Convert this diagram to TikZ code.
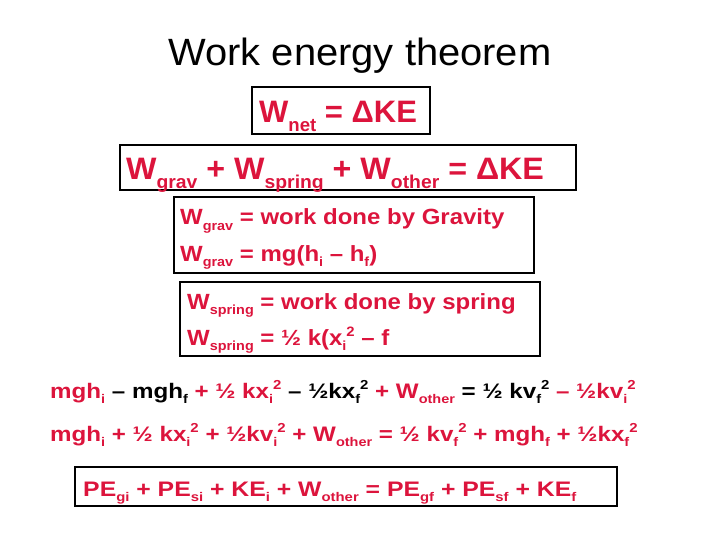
\documentclass[tikz,border=0pt]{standalone}
\usepackage{fontspec}
\setmainfont{Liberation Sans}
\definecolor{rd}{RGB}{220,20,60}
\newcommand{\sbx}[1]{\raisebox{-0.5ex}{\fontsize{0.6em}{1em}\selectfont #1}}
\newcommand{\spx}[1]{\raisebox{0.75ex}{\fontsize{0.62em}{1em}\selectfont #1}}
\begin{document}
\begin{tikzpicture}[x=1pt,y=-1pt,
  bx/.style={draw=black,line width=1.5pt},
  t/.style={anchor=base west,inner sep=0pt,font=\bfseries\fontsize{24}{28}\selectfont,text=rd},
  tb/.style={t,font=\bfseries\fontsize{31}{36}\selectfont}]
\useasboundingbox (0,0) rectangle (720,540);
\node[anchor=base,inner sep=0pt,xscale=1.05,font=\fontsize{38}{44}\selectfont] (title) at (360,66) {Work energy theorem};
\draw[bx] (252,87) rectangle (430,134);
\node[tb] (a) at (259,123) {W\sbx{net} = ΔKE};
\draw[bx] (120,145) rectangle (576,190);
\node[tb,xscale=1.04] (b) at (126,180) {W\sbx{grav} + W\sbx{spring} + W\sbx{other} = ΔKE};
\draw[bx] (174,197) rectangle (534,273);
\node[t,xscale=1.09,font=\bfseries\fontsize{22}{26}\selectfont] (c1) at (180,225) {W\sbx{grav} = work done by Gravity};
\node[t,xscale=1.09,font=\bfseries\fontsize{22}{26}\selectfont] (c2) at (180,261) {W\sbx{grav} = mg(h\sbx{i} – h\sbx{f})};
\draw[bx] (180,282) rectangle (540,356);
\node[t,xscale=1.09,font=\bfseries\fontsize{22}{26}\selectfont] (d1) at (187,309) {W\sbx{spring} = work done by spring};
\node[t,xscale=1.09,font=\bfseries\fontsize{22}{26}\selectfont] (d2) at (187,345) {W\sbx{spring} = ½ k(x\sbx{i}\spx{2} – f};
\node[t,xscale=1.15,font=\bfseries\fontsize{21}{26}\selectfont] (e1) at (50,398) {mgh\sbx{i} \textcolor{black}{– mgh\sbx{f}} + ½ kx\sbx{i}\spx{2} \textcolor{black}{– ½kx\sbx{f}\spx{2}} + W\sbx{other} \textcolor{black}{= ½ kv\sbx{f}\spx{2}} – ½kv\sbx{i}\spx{2}};
\node[t,xscale=1.15,font=\bfseries\fontsize{21}{26}\selectfont] (e2) at (50,441) {mgh\sbx{i} + ½ kx\sbx{i}\spx{2} + ½kv\sbx{i}\spx{2} + W\sbx{other} = ½ kv\sbx{f}\spx{2} + mgh\sbx{f} + ½kx\sbx{f}\spx{2}};
\draw[bx] (75,467) rectangle (617,506);
\node[t,xscale=1.18,font=\bfseries\fontsize{21}{26}\selectfont] (f) at (83,496) {PE\sbx{gi} + PE\sbx{si} + KE\sbx{i} + W\sbx{other} = PE\sbx{gf} + PE\sbx{sf} + KE\sbx{f}};
\end{tikzpicture}
\end{document}
